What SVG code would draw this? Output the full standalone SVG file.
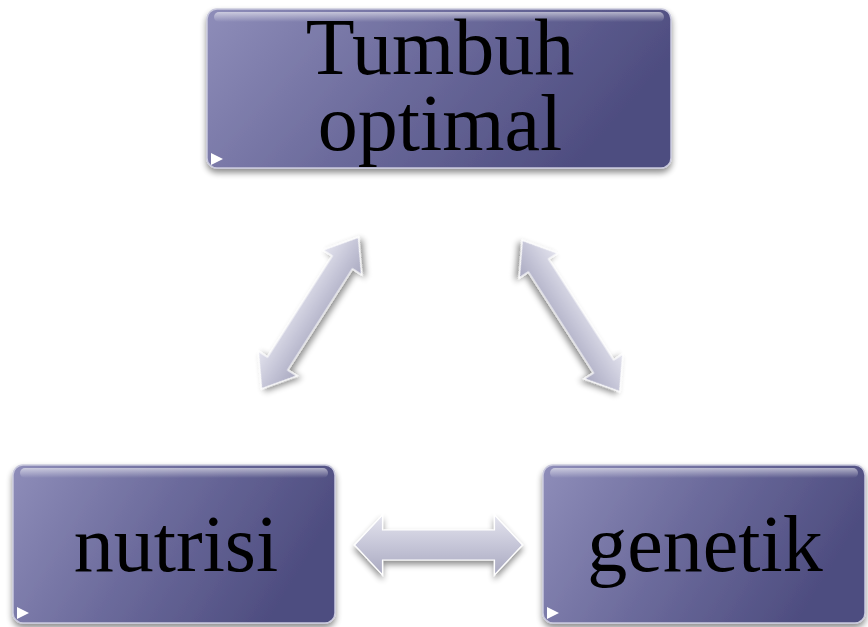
<svg xmlns="http://www.w3.org/2000/svg" width="868" height="627" viewBox="0 0 868 627">
<defs>
<linearGradient id="boxg" x1="0" y1="0" x2="1" y2="0.3">
<stop offset="0" stop-color="#8e8db9"/>
<stop offset="0.5" stop-color="#6c6b9c"/>
<stop offset="1" stop-color="#4e4d80"/>
</linearGradient>
<linearGradient id="gloss" x1="0" y1="0" x2="0" y2="1">
<stop offset="0" stop-color="#ffffff" stop-opacity="0.55"/>
<stop offset="1" stop-color="#ffffff" stop-opacity="0"/>
</linearGradient>
<linearGradient id="arrg" x1="0" y1="0" x2="0" y2="1">
<stop offset="0" stop-color="#e4e4ee"/>
<stop offset="0.5" stop-color="#c6c6d8"/>
<stop offset="1" stop-color="#a9a9c0"/>
</linearGradient>
<filter id="sh" x="-10%" y="-10%" width="120%" height="130%">
<feGaussianBlur in="SourceAlpha" stdDeviation="3"/>
<feOffset dx="0" dy="4" result="b"/>
<feComponentTransfer><feFuncA type="linear" slope="0.45"/></feComponentTransfer>
<feMerge><feMergeNode/><feMergeNode in="SourceGraphic"/></feMerge>
</filter>
<polygon id="dbl" points="-90,0 -60,-23 -60,-12 60,-12 60,-23 90,0 60,23 60,12 -60,12 -60,23"/>
<polygon id="dblh" points="-84,0 -56,-30 -56,-15 56,-15 56,-30 84,0 56,30 56,15 -56,15 -56,30"/>
</defs>
<style>
.box{fill:url(#boxg);stroke:#c9c9dd;stroke-width:1.5;filter:url(#sh)}
.hl{fill:url(#gloss)}
.tri{fill:#ffffff}
.lbl{font-family:"Liberation Serif","DejaVu Serif",serif;font-size:80px;fill:#000;text-anchor:middle}
.arr{fill:url(#arrg);stroke:#ffffff;stroke-width:1.2;filter:url(#sh)}
</style>
<g id="connectors">
<use href="#dbl" class="arr" transform="translate(310,313) rotate(-57.4)"/>
<use href="#dbl" class="arr" transform="translate(571,316) rotate(57.2)"/>
<use href="#dblh" class="arr" transform="translate(438.5,545)"/>
</g>
<g id="node-tumbuh">
<rect class="box" x="207" y="9" width="464" height="159" rx="10"/>
<rect class="hl" x="214" y="12" width="450" height="10" rx="5"/>
<polygon class="tri" points="211,153 223,159 211,165"/>
<text class="lbl" x="440" y="74">Tumbuh</text>
<text class="lbl" x="440" y="150">optimal</text>
</g>
<g id="node-nutrisi">
<rect class="box" x="13" y="465" width="322" height="158" rx="10"/>
<rect class="hl" x="20" y="468" width="308" height="10" rx="5"/>
<polygon class="tri" points="17,607 29,613 17,619"/>
<text class="lbl" x="176" y="571">nutrisi</text>
</g>
<g id="node-genetik">
<rect class="box" x="543" y="465" width="322" height="158" rx="10"/>
<rect class="hl" x="550" y="468" width="308" height="10" rx="5"/>
<polygon class="tri" points="547,607 559,613 547,619"/>
<text class="lbl" x="705" y="571">genetik</text>
</g>
</svg>
